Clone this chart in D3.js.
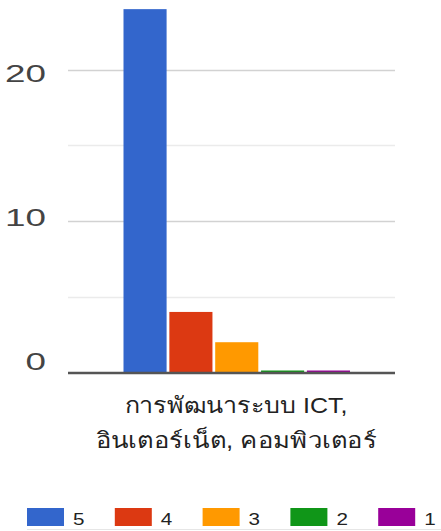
<!DOCTYPE html>
<html>
<head>
<meta charset="utf-8">
<script src="https://cdn.jsdelivr.net/npm/d3@7"></script>
<style>
  body { margin: 0; background: #fff; }
  svg text { font-family: "Liberation Sans", Arial, sans-serif; }
</style>
</head>
<body>
<script>
// data
var categoryLines = ['การพัฒนาระบบ ICT,', 'อินเตอร์เน็ต, คอมพิวเตอร์'];
var seriesNames = ['5', '4', '3', '2', '1'];
var seriesValues = [24, 4, 2, 0, 0];
var seriesColors = ['#3366cc', '#dc3912', '#ff9900', '#109618', '#990099'];
var majorTicks = [0, 10, 20];
var minorTicks = [5, 15];

var svg = d3.select('body')
  .append('svg')
  .attr('width', 441)
  .attr('height', 531);

var plotLeft = 68, plotRight = 395;

var y = d3.scaleLinear()
  .domain([0, 20])
  .range([372.5, 69.7]);

// tick labels sit a little off their gridlines in the original
var yLabel = d3.scaleLinear()
  .domain([0, 20])
  .range([370, 81.7]);

var x = d3.scaleBand()
  .domain(seriesNames)
  .range([123.5, 350])
  .paddingInner(0.06);

// gridlines
svg.selectAll('line.minor')
  .data(minorTicks)
  .enter().append('line')
  .attr('class', 'minor')
  .attr('x1', plotLeft).attr('x2', plotRight)
  .attr('y1', function(d){ return Math.round(y(d)) + 0.5; })
  .attr('y2', function(d){ return Math.round(y(d)) + 0.5; })
  .attr('stroke', '#ebebeb')
  .attr('stroke-width', 1.5);

svg.selectAll('line.major')
  .data(majorTicks.filter(function(d){ return d !== 0; }))
  .enter().append('line')
  .attr('class', 'major')
  .attr('x1', plotLeft).attr('x2', plotRight)
  .attr('y1', function(d){ return Math.round(y(d)) + 0.5; })
  .attr('y2', function(d){ return Math.round(y(d)) + 0.5; })
  .attr('stroke', '#d2d2d2')
  .attr('stroke-width', 1.5);

// bars
svg.selectAll('rect.bar')
  .data(seriesValues)
  .enter().append('rect')
  .attr('class', 'bar')
  .attr('x', function(d, i){ return x(seriesNames[i]); })
  .attr('width', x.bandwidth())
  .attr('y', function(d){ return d > 0 ? y(d) : y(0) - 2; })
  .attr('height', function(d){ return d > 0 ? y(0) - y(d) : 2; })
  .attr('fill', function(d, i){ return seriesColors[i]; });

// baseline
svg.append('line')
  .attr('x1', plotLeft).attr('x2', plotRight)
  .attr('y1', y(0) + 0.5).attr('y2', y(0) + 0.5)
  .attr('stroke', '#555')
  .attr('stroke-width', 2.5);

// y labels (wide, stretched glyphs)
svg.selectAll('text.ylab')
  .data(majorTicks)
  .enter().append('text')
  .attr('class', 'ylab')
  .attr('transform', function(d){ return 'translate(46,' + yLabel(d) + ') scale(1.6,1)'; })
  .attr('text-anchor', 'end')
  .attr('font-size', 23)
  .attr('fill', '#444')
  .text(function(d){ return d; });

// category label
var catWidths = [223, 281];
svg.selectAll('text.cat')
  .data(categoryLines)
  .enter().append('text')
  .attr('class', 'cat')
  .attr('x', 236)
  .attr('y', function(d, i){ return 413 + i * 35; })
  .attr('text-anchor', 'middle')
  .attr('font-size', 22)
  .attr('fill', '#222')
  .attr('textLength', function(d, i){ return catWidths[i]; })
  .attr('lengthAdjust', 'spacingAndGlyphs')
  .text(function(d){ return d; });

// legend
var legend = svg.selectAll('g.legend')
  .data(seriesNames)
  .enter().append('g')
  .attr('class', 'legend')
  .attr('transform', function(d, i){ return 'translate(' + (27 + i * 87.8) + ',508)'; });

legend.append('rect')
  .attr('width', 37).attr('height', 18)
  .attr('fill', function(d, i){ return seriesColors[i]; });

legend.append('text')
  .attr('transform', 'translate(46,17) scale(1.25,1)')
  .attr('font-size', 16.5)
  .attr('fill', '#222')
  .text(function(d){ return d; });

svg.append('line')
  .attr('x1', 27).attr('x2', 441)
  .attr('y1', 529.5).attr('y2', 529.5)
  .attr('stroke', '#e6e6e6');
</script>
</body>
</html>
